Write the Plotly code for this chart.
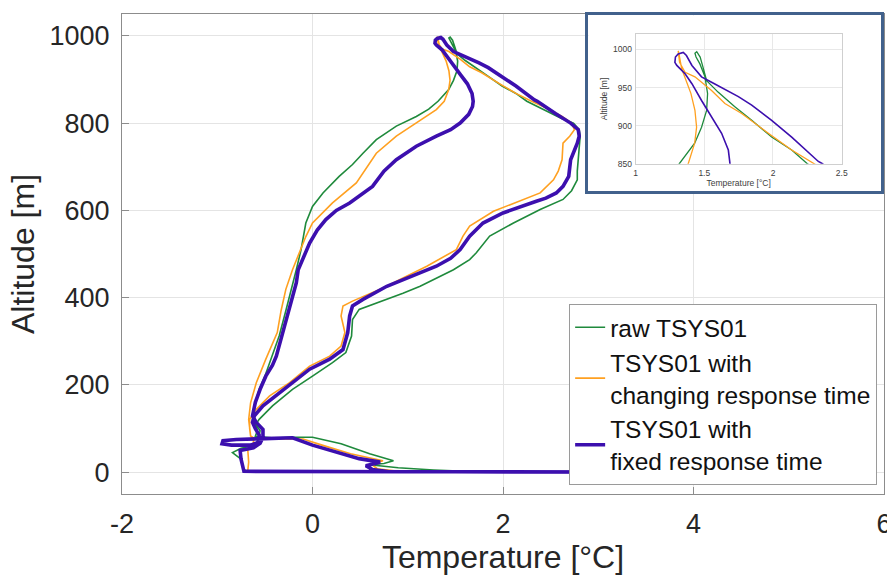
import plotly.graph_objects as go

# ---------------- data ----------------
# raw TSYS01 (green)
raw_temp = [1.3, 0.5, -0.2, -0.7, -0.73, -0.75, -0.84, -0.75, -0.6, -0.57, -0.55, -0.6, -0.63,
            -0.62, -0.58, -0.56, -0.50, -0.45, -0.40, -0.35, -0.28, -0.22, -0.17, -0.12, -0.07, 0.0,
            0.11, 0.28, 0.42, 0.53, 0.67, 0.88, 1.09, 1.22, 1.318, 1.43, 1.48, 1.517, 1.524, 1.505,
            1.468, 1.44, 1.432, 1.445, 1.47, 1.49, 1.517, 1.60, 1.72, 1.845, 1.99, 2.136, 2.25,
            2.45, 2.62, 2.74, 2.80, 2.81, 2.80, 2.79, 2.78, 2.78, 2.72, 2.63, 2.39, 2.11, 1.86,
            1.72, 1.65, 1.48, 1.30, 1.13, 0.95, 0.78, 0.60, 0.49, 0.42, 0.41, 0.35, 0.21, 0.0,
            -0.21, -0.42, -0.56, -0.6, -0.58, -0.6, -0.4, -0.21, 0.0, 0.3, 0.6, 0.85, 0.75, 0.6,
            0.9, 1.27, 1.6, 2.5, 3.5, 4.5, 5.8]
raw_alt = [1, 1, 1, 2, 10, 30, 45, 55, 62, 75, 95, 110, 120,
           144, 175, 190, 220, 251, 280, 312, 370, 419, 464, 510, 571, 609,
           640, 678, 705, 731, 762, 793, 815, 832, 850, 877, 898, 920, 942, 964,
           981, 990, 995, 997, 990, 977, 959, 944, 925, 907, 885, 868, 850,
           828, 810, 800, 785, 770, 745, 716, 690, 670, 645, 625, 602, 571, 541,
           503, 487, 464, 445, 426, 410, 396, 382, 373, 350, 312, 274, 251, 220,
           190, 152, 121, 108, 95, 82, 78, 80, 80, 65, 42, 26, 20, 17,
           10, 5, 2, 1, 1, 1, 1]

# TSYS01 with changing response time (orange)
chg_temp = [1.0, 0.3, -0.3, -0.68, -0.67, -0.68, -0.62, -0.62, -0.65, -0.66, -0.67,
            -0.65, -0.59, -0.49, -0.37, -0.33, -0.28, -0.21, -0.14, -0.07, 0.0, 0.21, 0.46,
            0.67, 0.88, 1.09, 1.30, 1.383, 1.43, 1.444, 1.432, 1.403, 1.36, 1.335, 1.316, 1.31,
            1.32, 1.36, 1.432, 1.553, 1.65, 1.772, 1.966, 2.136, 2.30,
            2.45, 2.62, 2.72, 2.75, 2.70, 2.63, 2.62, 2.58, 2.53, 2.39, 2.11, 1.90, 1.65, 1.58,
            1.51, 1.20, 0.95, 0.71, 0.42, 0.32, 0.30, 0.34, 0.30, 0.18, -0.03, -0.24, -0.45,
            -0.59, -0.66, -0.66, -0.65, -0.6, -0.3, -0.1, 0.1, 0.4, 0.74, 0.62, 0.68, 0.9,
            1.5, 2.5, 3.5, 4.5, 5.8]
chg_alt = [1, 1, 1, 2, 23, 53, 60, 75, 83, 100, 121,
           159, 205, 259, 320, 370, 419, 464, 503, 540, 571, 617, 663,
           731, 770, 800, 831, 850, 877, 898, 920, 942, 964, 975, 994, 998,
           983, 970, 964, 946, 929, 916, 890, 868, 850,
           835, 815, 800, 785, 770, 754, 716, 690, 670, 640, 617, 598, 564, 541,
           510, 472, 445, 419, 392, 381, 358, 320, 289, 266, 243, 205, 175,
           144, 121, 100, 83, 76, 76, 76, 62, 42, 26, 18, 8, 2,
           1, 1, 1, 1, 1]

# TSYS01 with fixed response time (purple)
fix_temp = [1.0, 0.5, 0.0, -0.5, -0.72, -0.75, -0.76, -0.62, -0.55, -0.52, -0.52, -0.59, -0.63,
            -0.60, -0.55, -0.49, -0.42, -0.38, -0.31, -0.24, -0.17, -0.15, -0.08, -0.03, 0.05,
            0.14, 0.25, 0.39, 0.63, 0.75, 0.88, 1.09, 1.30, 1.45, 1.55, 1.64, 1.68, 1.687, 1.675,
            1.626, 1.553, 1.48, 1.41, 1.36, 1.30, 1.286, 1.29, 1.31, 1.347, 1.37, 1.41, 1.48,
            1.553, 1.65, 1.748, 1.845, 1.99, 2.136, 2.33, 2.36, 2.55, 2.71, 2.79, 2.80, 2.78,
            2.74, 2.71, 2.69, 2.63, 2.56, 2.45, 2.35, 2.18, 2.00, 1.79, 1.65, 1.55, 1.45, 1.30,
            1.13, 0.95, 0.78, 0.53, 0.42, 0.39, 0.37, 0.32, 0.18, -0.03, -0.21, -0.38, -0.52,
            -0.61, -0.63, -0.60, -0.56, -0.57, -0.65, -0.85, -0.95, -0.94, -0.8, -0.5, -0.21,
            0.0, 0.25, 0.49, 0.71, 0.56, 0.63, 0.8, 1.5, 2.5, 3.5, 4.5, 5.8]
fix_alt = [1, 1, 1, 1, 2, 30, 50, 56, 66, 80, 98, 114, 129,
           160, 190, 220, 245, 266, 320, 380, 434, 464, 500, 525, 555,
           579, 600, 617, 655, 690, 716, 747, 770, 785, 800, 820, 838, 850, 868,
           890, 911, 933, 955, 968, 979, 983, 990, 994, 996, 992, 979, 964,
           957, 948, 938, 927, 907, 885, 853, 850, 822, 800, 785, 770, 754,
           735, 716, 678, 655, 640, 628, 621, 607, 594, 571, 541, 510, 490, 472,
           457, 441, 426, 396, 381, 358, 320, 281, 259, 236, 205, 175, 152,
           129, 114, 100, 85, 68, 62, 62, 65, 72, 75, 77, 79,
           62, 46, 31, 23, 15, 6, 1, 1, 0, 1, 0, 1]

series_names = ["raw TSYS01", "TSYS01 with<br>changing response time", "TSYS01 with<br>fixed response time"]
series_temp = [raw_temp, chg_temp, fix_temp]
series_alt = [raw_alt, chg_alt, fix_alt]
series_colors = ["#1f8a3c", "#ffa020", "#3c0fae"]
main_widths = [1.6, 1.6, 3.6]
inset_widths = [1.3, 1.3, 1.6]

x_ticks = [-2, 0, 2, 4, 6]
x_tick_labels = ["-2", "0", "2", "4", "6"]
y_ticks = [0, 200, 400, 600, 800, 1000]
inset_x_ticks = [1, 1.5, 2, 2.5]
inset_x_labels = ["1", "1.5", "2", "2.5"]
inset_y_ticks = [850, 900, 950, 1000]

FONT = "Liberation Sans, Arial, Helvetica, sans-serif"
TXT = "#262626"

fig = go.Figure()

# main traces
for name, t, a, c, w in zip(series_names, series_temp, series_alt, series_colors, main_widths):
    fig.add_trace(go.Scatter(x=t, y=a, mode="lines", name=name,
                             line=dict(color=c, width=w), xaxis="x", yaxis="y"))

# frame subplot (white box with blue border that holds the inset)
fig.add_trace(go.Scatter(x=[], y=[], mode="lines", showlegend=False, xaxis="x2", yaxis="y2"))

# inset traces
for name, t, a, c, w in zip(series_names, series_temp, series_alt, series_colors, inset_widths):
    fig.add_trace(go.Scatter(x=t, y=a, mode="lines", name=name, showlegend=False,
                             line=dict(color=c, width=w), xaxis="x3", yaxis="y3"))

axis_line = "#8c8c8c"
grid = "#e4e4e4"

fig.update_layout(
    width=887, height=581,
    margin=dict(l=122, r=3, t=14, b=87, autoexpand=False),
    paper_bgcolor="white", plot_bgcolor="white",
    font=dict(family=FONT, color=TXT),
    showlegend=True,
    legend=dict(x=0.991, y=0.019, xanchor="right", yanchor="bottom",
                bgcolor="white", bordercolor="#9a9a9a", borderwidth=1,
                font=dict(family=FONT, size=24.5, color="#111111"),
                tracegroupgap=0),
    xaxis=dict(domain=[0, 1], range=[-2, 6], tickvals=x_ticks, ticktext=x_tick_labels,
               showgrid=True, gridcolor=grid, automargin=False,
               zeroline=False, showline=True, mirror=True, linecolor=axis_line, linewidth=1,
               ticks="inside", ticklen=7, tickcolor=axis_line,
               tickfont=dict(size=27, color=TXT), ticklabelstandoff=6,
               ticklabeloverflow="allow",
               title=dict(text="Temperature [°C]", font=dict(size=32, color=TXT), standoff=6),
               anchor="y"),
    yaxis=dict(domain=[0, 1], range=[-50, 1050], tickvals=y_ticks, showgrid=True, gridcolor=grid,
               zeroline=False, showline=True, mirror=True, linecolor=axis_line, linewidth=1,
               ticks="inside", ticklen=7, tickcolor=axis_line, automargin=False,
               tickfont=dict(size=27, color=TXT), ticklabelstandoff=6,
               title=dict(text="Altitude [m]", font=dict(size=32, color=TXT), standoff=5),
               anchor="x"),
    xaxis2=dict(domain=[0.6122, 0.9967], range=[0, 1], visible=True, showgrid=False, zeroline=False,
                showticklabels=False, ticks="", showline=True, mirror=True, automargin=False,
                linecolor="#41618c", linewidth=3, anchor="y2", fixedrange=True),
    yaxis2=dict(domain=[0.631, 0.997], range=[0, 1], visible=True, showgrid=False, zeroline=False,
                showticklabels=False, ticks="", showline=True, mirror=True, automargin=False,
                linecolor="#41618c", linewidth=3, anchor="x2", fixedrange=True),
    xaxis3=dict(domain=[0.674, 0.9445], range=[1, 2.5], tickvals=inset_x_ticks, ticktext=inset_x_labels,
                showgrid=True, gridcolor="#e8e8e8", zeroline=False, showline=True, mirror=True,
                linecolor="#cfcfcf", linewidth=1, ticks="", anchor="y3", automargin=False,
                tickfont=dict(size=8.5, color="#404040"), ticklabelstandoff=1,
                title=dict(text="Temperature [°C]", font=dict(size=8.5, color="#404040"), standoff=2)),
    yaxis3=dict(domain=[0.688, 0.958], range=[850, 1020], tickvals=inset_y_ticks,
                showgrid=True, gridcolor="#e8e8e8", zeroline=False, showline=True, mirror=True,
                linecolor="#cfcfcf", linewidth=1, ticks="", anchor="x3", automargin=False,
                tickfont=dict(size=8.5, color="#404040"), ticklabelstandoff=1,
                title=dict(text="Altitude [m]", font=dict(size=8.5, color="#404040"), standoff=3)),
)

fig.write_html("out.html")
